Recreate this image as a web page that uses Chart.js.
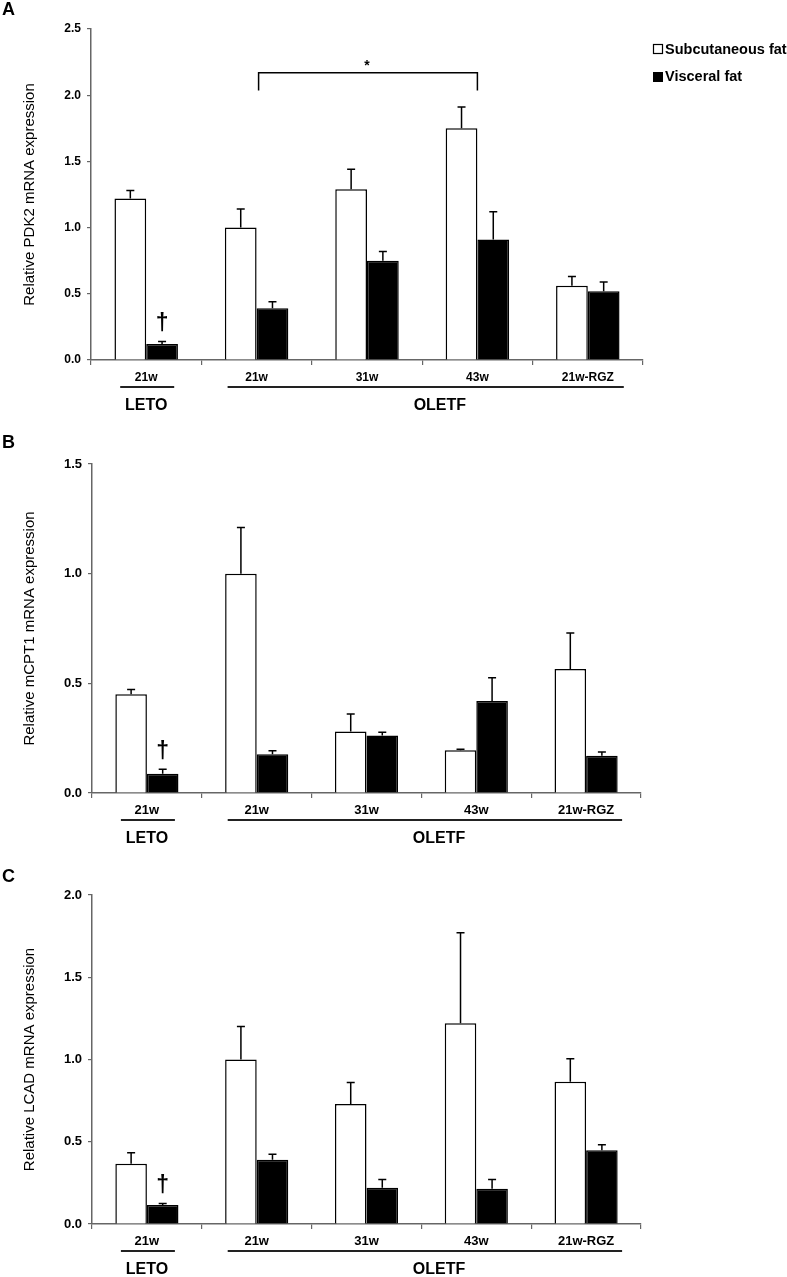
<!DOCTYPE html>
<html>
<head>
<meta charset="utf-8">
<script src="https://cdn.jsdelivr.net/npm/chart.js@4.4.0/dist/chart.umd.min.js"></script>
<style>
    body { margin: 0; background: #fff; width: 787px; height: 1277px; overflow: hidden; position: relative; }
    canvas { position: absolute; left: 0; }
</style>
</head>
<body>
<canvas id="chartA" width="787" height="420" style="top:0px"></canvas>
<canvas id="chartB" width="787" height="430" style="top:420px"></canvas>
<canvas id="chartC" width="787" height="427" style="top:850px"></canvas>
<script>
const grupos = ['21w', '21w', '31w', '43w', '21w-RGZ'];
const series = ['Subcutaneous fat', 'Visceral fat'];

// A: PDK2
const pdk2Subcut = [1.22, 1.00, 1.29, 1.75, 0.56];
const pdk2SubcutErr = [0.06, 0.14, 0.15, 0.16, 0.07];
const pdk2Visc = [0.12, 0.39, 0.75, 0.91, 0.52];
const pdk2ViscErr = [0.02, 0.05, 0.07, 0.21, 0.07];

// B: mCPT1
const cpt1Subcut = [0.45, 1.00, 0.28, 0.195, 0.565];
const cpt1SubcutErr = [0.022, 0.21, 0.08, 0.005, 0.165];
const cpt1Visc = [0.088, 0.177, 0.262, 0.42, 0.17];
const cpt1ViscErr = [0.02, 0.016, 0.015, 0.106, 0.017];

// C: LCAD
const lcadSubcut = [0.367, 1.00, 0.73, 1.22, 0.865];
const lcadSubcutErr = [0.066, 0.20, 0.13, 0.55, 0.14];
const lcadVisc = [0.115, 0.39, 0.22, 0.215, 0.448];
const lcadViscErr = [0.01, 0.034, 0.05, 0.055, 0.034];

const GRIS = '#666';
const SANS = "'Liberation Sans', Arial, sans-serif";
const NARROW = "'Liberation Sans Narrow', 'Arial Narrow', 'Liberation Sans', sans-serif";

function crearPanel(id, opciones) {
    const ctx = document.getElementById(id).getContext('2d');
    const canvas = ctx.canvas;
    const fuente = opciones.narrow ? NARROW : SANS;

    const extras = {
        id: 'extras',
        afterDatasetsDraw(chart) {
            const c = chart.ctx;
            const y = chart.scales.y;
            c.save();
            c.strokeStyle = '#000';
            c.lineWidth = 1.5;
            chart.data.datasets.forEach((ds, di) => {
                const meta = chart.getDatasetMeta(di);
                meta.data.forEach((bar, i) => {
                    const yBase = y.getPixelForValue(ds.data[i]);
                    const yTop = y.getPixelForValue(ds.data[i] + ds.err[i]);
                    c.beginPath();
                    c.moveTo(bar.x, yBase);
                    c.lineTo(bar.x, yTop);
                    c.moveTo(bar.x - 4, yTop);
                    c.lineTo(bar.x + 4, yTop);
                    c.stroke();
                });
            });
            c.restore();
        },
        afterDraw(chart) {
            const c = chart.ctx;
            const x = chart.scales.x;
            const y = chart.scales.y;
            const fondo = chart.chartArea.bottom;
            c.save();
            c.fillStyle = '#000';
            c.strokeStyle = '#000';

            // letra del panel
            c.font = 'bold 18px ' + SANS;
            c.textAlign = 'left';
            c.textBaseline = 'middle';
            c.fillText(opciones.letra, 2, opciones.letraY);

            // lineas de grupo
            c.strokeStyle = '#222';
            c.lineWidth = 2;
            const c0 = x.getPixelForValue(0);
            const c1 = x.getPixelForValue(1);
            const c4 = x.getPixelForValue(4);
            c.beginPath();
            c.moveTo(c0 - 26, fondo + 27);
            c.lineTo(c0 + 28, fondo + 27);
            c.moveTo(c1 - 29, fondo + 27);
            c.lineTo(c4 + 36, fondo + 27);
            c.stroke();

            c.font = 'bold 16px ' + fuente;
            c.textAlign = 'center';
            c.fillText('LETO', c0, fondo + 46);
            c.fillText('OLETF', x.getPixelForValue(2.66), fondo + 46);

            // daga sobre LETO visceral
            const barra = chart.getDatasetMeta(1).data[0];
            const ds = chart.data.datasets[1];
            c.font = 'bold 23px ' + SANS;
            c.fillText('\u2020', barra.x, y.getPixelForValue(ds.data[0] + ds.err[0]) - 18);

            if (opciones.leyenda) {
                // llave de significancia
                const xa = c1 + 2;
                const xb = x.getPixelForValue(3);
                const yArriba = y.getPixelForValue(2.17);
                const yAbajo = y.getPixelForValue(2.035);
                c.strokeStyle = '#000';
                c.lineWidth = 1.5;
                c.beginPath();
                c.moveTo(xa, yAbajo);
                c.lineTo(xa, yArriba);
                c.lineTo(xb, yArriba);
                c.lineTo(xb, yAbajo);
                c.stroke();
                c.font = 'bold 14px ' + SANS;
                c.fillText('*', x.getPixelForValue(2), yArriba - 7);

                // leyenda
                c.textAlign = 'left';
                c.font = 'bold 14.5px ' + SANS;
                c.lineWidth = 1.2;
                c.fillStyle = '#fff';
                c.fillRect(653.5, 44.5, 9, 9);
                c.strokeRect(653.5, 44.5, 9, 9);
                c.fillStyle = '#000';
                c.fillRect(653, 72, 10, 10);
                c.fillText(series[0], 665, 50);
                c.fillText(series[1], 665, 77);
            }
            c.restore();
        }
    };

    return new Chart(ctx, {
        type: 'bar',
        data: {
            labels: grupos,
            datasets: [{
                label: series[0],
                data: opciones.subcut,
                err: opciones.subcutErr,
                backgroundColor: '#fff',
                borderColor: '#000',
                borderWidth: 1.5
            }, {
                label: series[1],
                data: opciones.visc,
                err: opciones.viscErr,
                backgroundColor: '#000',
                borderColor: '#000',
                borderWidth: 1.5
            }]
        },
        options: {
            responsive: false,
            animation: false,
            categoryPercentage: 0.575,
            barPercentage: 1,
            layout: {
                padding: { top: opciones.arriba, right: canvas.width - opciones.derecha, left: 0, bottom: 0 }
            },
            plugins: {
                legend: { display: false },
                tooltip: { enabled: false }
            },
            scales: {
                x: {
                    grid: { drawOnChartArea: false, tickLength: 5, color: GRIS, lineWidth: 1.2, offset: true },
                    border: { color: GRIS, width: 1.5 },
                    ticks: { color: '#000', padding: 5, font: { family: fuente, weight: 'bold', size: opciones.narrow ? 13 : 12 } },
                    afterFit: s => { s.height = canvas.height - opciones.abajo; }
                },
                y: {
                    min: 0,
                    max: opciones.yMax,
                    grid: { drawOnChartArea: false, tickLength: 4, color: GRIS, lineWidth: 1.2 },
                    border: { color: GRIS, width: 1.5 },
                    ticks: {
                        stepSize: 0.5,
                        color: '#000',
                        padding: 6,
                        font: { family: fuente, weight: 'bold', size: opciones.narrow ? 13 : 12 },
                        callback: v => v.toFixed(1)
                    },
                    title: {
                        display: true,
                        text: opciones.titulo,
                        color: '#000',
                        padding: { top: 21, bottom: 0 },
                        font: { family: SANS, size: 15 }
                    },
                    afterFit: s => { s.width = opciones.izquierda; }
                }
            }
        },
        plugins: [extras]
    });
}

crearPanel('chartA', {
    letra: 'A', letraY: 10, titulo: 'Relative PDK2 mRNA expression', yMax: 2.5,
    subcut: pdk2Subcut, subcutErr: pdk2SubcutErr, visc: pdk2Visc, viscErr: pdk2ViscErr,
    arriba: 29, abajo: 360, izquierda: 91, derecha: 643, narrow: false, leyenda: true
});

crearPanel('chartB', {
    letra: 'B', letraY: 23, titulo: 'Relative mCPT1 mRNA expression', yMax: 1.5,
    subcut: cpt1Subcut, subcutErr: cpt1SubcutErr, visc: cpt1Visc, viscErr: cpt1ViscErr,
    arriba: 44, abajo: 373, izquierda: 92, derecha: 641, narrow: true, leyenda: false
});

crearPanel('chartC', {
    letra: 'C', letraY: 27, titulo: 'Relative LCAD mRNA expression', yMax: 2.0,
    subcut: lcadSubcut, subcutErr: lcadSubcutErr, visc: lcadVisc, viscErr: lcadViscErr,
    arriba: 45, abajo: 374, izquierda: 92, derecha: 641, narrow: true, leyenda: false
});
</script>
</body>
</html>
